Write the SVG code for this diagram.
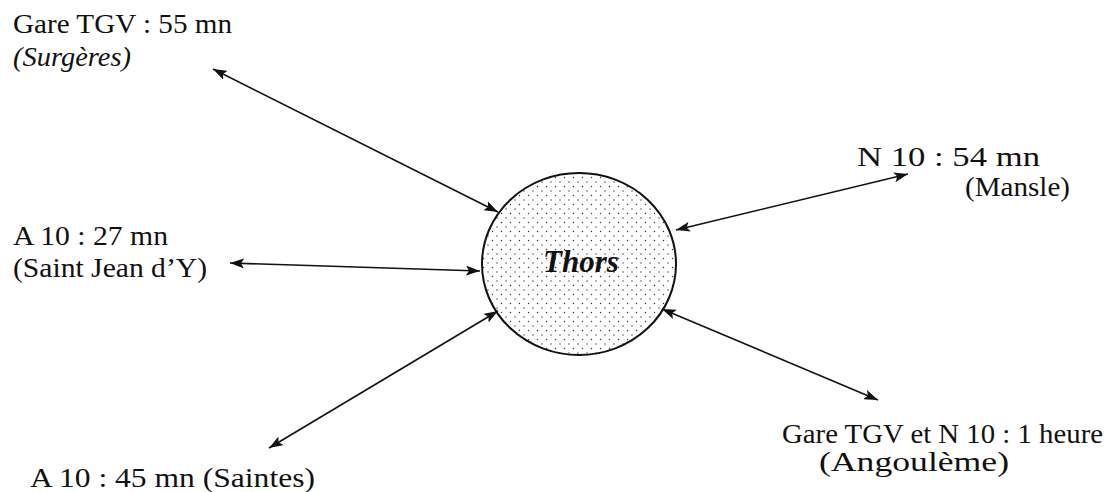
<svg xmlns="http://www.w3.org/2000/svg" width="1115" height="492" viewBox="0 0 1115 492">
  <style>
    .lbl { font-family: "Liberation Serif", "Times New Roman", Times, serif; font-size: 27px; fill: #111; }
    .it { font-style: italic; }
    .conn { stroke: #111; stroke-width: 1.6; fill: none; marker-start: url(#head); marker-end: url(#head); }
  </style>
  <defs>
    <marker id="head" viewBox="0 0 14 10" refX="14" refY="5" markerWidth="14" markerHeight="10" markerUnits="userSpaceOnUse" orient="auto-start-reverse">
      <path d="M0,0 L14,5 L0,10 L3,5 Z" fill="#111"/>
    </marker>
    <pattern id="dots" width="9" height="9" patternUnits="userSpaceOnUse">
      <circle cx="2" cy="2" r="0.7" fill="#333"/>
      <circle cx="6.5" cy="6.5" r="0.7" fill="#333"/>
    </pattern>
  </defs>

  <!-- central town -->
  <g id="thors">
    <ellipse cx="579" cy="264" rx="97" ry="91" fill="url(#dots)" stroke="#111" stroke-width="2"/>
    <text x="581" y="272" text-anchor="middle" font-family="'Liberation Serif', 'Times New Roman', serif" font-size="31" font-weight="bold" font-style="italic" fill="#111">Thors</text>
  </g>

  <!-- destinations -->
  <g id="surgeres">
    <text class="lbl" x="13" y="33" textLength="219" lengthAdjust="spacingAndGlyphs">Gare TGV : 55 mn</text>
    <text class="lbl it" x="13" y="66" textLength="118" lengthAdjust="spacingAndGlyphs">(Surgères)</text>
  </g>
  <g id="mansle">
    <text class="lbl" x="857" y="166" textLength="183" lengthAdjust="spacingAndGlyphs">N 10 : 54 mn</text>
    <text class="lbl" x="965" y="196" textLength="105" lengthAdjust="spacingAndGlyphs">(Mansle)</text>
  </g>
  <g id="saint-jean">
    <text class="lbl" x="13" y="245" textLength="155" lengthAdjust="spacingAndGlyphs">A 10 : 27 mn</text>
    <text class="lbl" x="13" y="277" textLength="194" lengthAdjust="spacingAndGlyphs">(Saint Jean d’Y)</text>
  </g>
  <g id="saintes">
    <text class="lbl" x="30" y="487" textLength="285" lengthAdjust="spacingAndGlyphs">A 10 : 45 mn (Saintes)</text>
  </g>
  <g id="angouleme">
    <text class="lbl" x="782" y="443" font-size="25" textLength="321" lengthAdjust="spacingAndGlyphs">Gare TGV et N 10 : 1 heure</text>
    <text class="lbl" x="819" y="471" font-size="25" textLength="190" lengthAdjust="spacingAndGlyphs">(Angoulème)</text>
  </g>

  <!-- connectors -->
  <g id="connectors">
    <line class="conn" x1="213" y1="69" x2="498" y2="212"/>
    <line class="conn" x1="676" y1="230" x2="908" y2="174"/>
    <line class="conn" x1="230" y1="263" x2="480" y2="271"/>
    <line class="conn" x1="269" y1="448" x2="498" y2="311"/>
    <line class="conn" x1="662" y1="309" x2="878" y2="400"/>
  </g>
</svg>
